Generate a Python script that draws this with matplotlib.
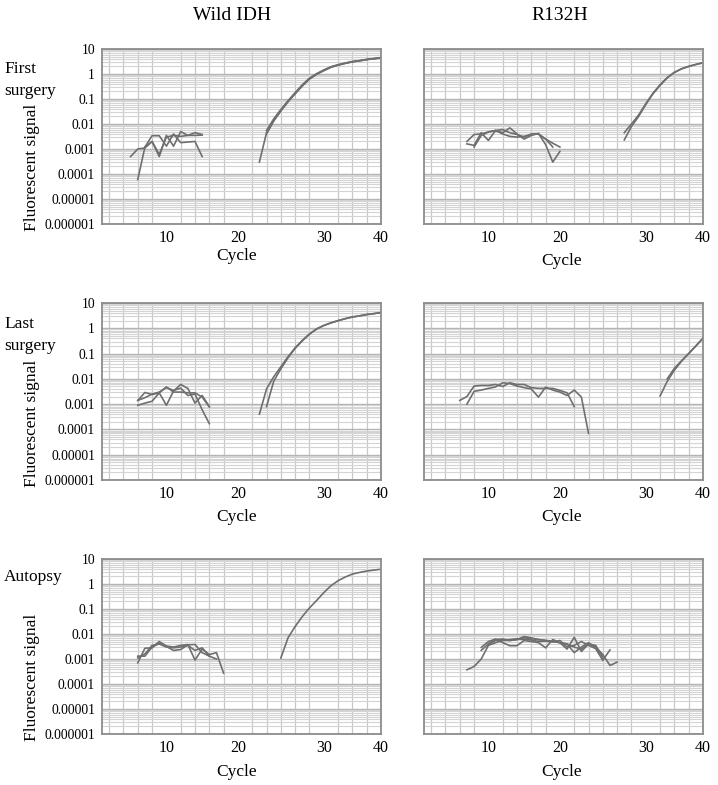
import numpy as np
import matplotlib
matplotlib.use("Agg")
import matplotlib.pyplot as plt
from matplotlib.ticker import LogLocator, FixedLocator, NullFormatter

plt.rcParams['font.family'] = ['Liberation Serif', 'DejaVu Serif']

# ---------------- data (first cycle, fluorescent signal per cycle) ----------------
COL_TITLES = ["Wild IDH", "R132H"]
ROW_TITLES = ["First\nsurgery", "Last\nsurgery", "Autopsy"]
Y_TICKS = [1e-6, 1e-5, 1e-4, 1e-3, 1e-2, 1e-1, 1, 10]
Y_TICK_LABELS = ["0.000001", "0.00001", "0.0001", "0.001", "0.01", "0.1", "1", "10"]
X_TICK_LABELS = ["10", "20", "30", "40"]

# Wild IDH, first surgery
WT1_N1 = (5, [0.0005, 0.0010, 0.0011, 0.0020, 0.0005, 0.0035, 0.0013, 0.0050, 0.0035, 0.0035, 0.0036])
WT1_N2 = (6, [0.00006, 0.0012, 0.0034, 0.0034, 0.0013, 0.0040, 0.0018, 0.0019, 0.0020, 0.0005])
WT1_N3 = (7, [0.0012, 0.0020, 0.0006, 0.0030, 0.0035, 0.0032, 0.0035, 0.0045, 0.0038])
WT1_A1 = (23, [0.0003, 0.0045, 0.014, 0.035, 0.08, 0.17, 0.35, 0.65, 1.0, 1.4, 1.9, 2.3, 2.7, 3.1, 3.4, 3.8, 4.1, 4.5])
WT1_A2 = (24, [0.0040, 0.013, 0.033, 0.077, 0.16, 0.33, 0.62, 0.97, 1.35, 1.85, 2.25, 2.65, 3.05, 3.35, 3.75, 4.05, 4.4])
WT1_A3 = (24, [0.0055, 0.016, 0.038, 0.085, 0.18, 0.37, 0.68, 1.03, 1.45, 1.95, 2.35, 2.75, 3.15, 3.45, 3.85, 4.15, 4.55])

# R132H, first surgery
MT1_N1 = (7, [0.0016, 0.0014, 0.0045, 0.0022, 0.0055, 0.0045, 0.0070, 0.0040, 0.0025, 0.0035, 0.0042, 0.0015, 0.0003, 0.0008])
MT1_N2 = (7, [0.0020, 0.0038, 0.0040, 0.0048, 0.0055, 0.0060, 0.0045, 0.0038, 0.0030, 0.0040, 0.0040, 0.0025, 0.0017, 0.0012])
MT1_N3 = (8, [0.0012, 0.0035, 0.0048, 0.0055, 0.0040, 0.0032, 0.0030, 0.0032, 0.0038, 0.0040, 0.0025, 0.0012])
MT1_A1 = (29, [0.0023, 0.008, 0.02, 0.06, 0.16, 0.35, 0.7, 1.15, 1.6, 2.0, 2.4, 2.8])
MT1_A2 = (29, [0.0045, 0.010, 0.023, 0.065, 0.17, 0.37, 0.72, 1.17, 1.62, 2.02, 2.42, 2.82])

# Wild IDH, last surgery
WT2_N1 = (6, [0.0014, 0.0029, 0.0024, 0.0028, 0.0048, 0.0030, 0.0030, 0.0028, 0.0028, 0.0019, 0.00078])
WT2_N2 = (6, [0.0009, 0.0011, 0.0013, 0.0028, 0.0009, 0.0033, 0.0060, 0.0042, 0.0011, 0.0022, 0.0008])
WT2_N3 = (6, [0.0014, 0.0018, 0.0025, 0.0030, 0.0045, 0.0035, 0.0043, 0.0022, 0.0025, 0.0006, 0.00017])
WT2_A1 = (23, [0.0004, 0.004, 0.012, 0.03, 0.075, 0.17, 0.33, 0.6, 0.95, 1.3, 1.65, 2.0, 2.4, 2.8, 3.1, 3.5, 3.8, 4.2])
WT2_A2 = (24, [0.0008, 0.008, 0.025, 0.068, 0.16, 0.32, 0.58, 0.93, 1.28, 1.63, 2.0, 2.4, 2.8, 3.1, 3.5, 3.8, 4.2])

# R132H, last surgery
MT2_N1 = (6, [0.0014, 0.0020, 0.0052, 0.0055, 0.0055, 0.0060, 0.0050, 0.0070, 0.0060, 0.0060, 0.0045, 0.0042, 0.0042, 0.0042, 0.0035, 0.0028, 0.0008])
MT2_N2 = (7, [0.0010, 0.0032, 0.0036, 0.0042, 0.0048, 0.0070, 0.0065, 0.0052, 0.0045, 0.0040, 0.0019, 0.0047, 0.0036, 0.0030, 0.0022, 0.0036, 0.0019, 0.00007])
MT2_A1 = (34, [0.0021, 0.008, 0.022, 0.05, 0.1, 0.2, 0.4])
MT2_A2 = (35, [0.0100, 0.026, 0.052, 0.1, 0.2, 0.41])

# Wild IDH, autopsy
WT3_N1 = (6, [0.0007, 0.0027, 0.0028, 0.0050, 0.0033, 0.0030, 0.0035, 0.0038, 0.0009, 0.0025, 0.0015, 0.0018, 0.00027])
WT3_N2 = (6, [0.0013, 0.0013, 0.0030, 0.0042, 0.0032, 0.0022, 0.0024, 0.0037, 0.0038, 0.0018, 0.0013, 0.0010])
WT3_N3 = (6, [0.0011, 0.0016, 0.0035, 0.0040, 0.0030, 0.0028, 0.0030, 0.0035, 0.0022, 0.0028, 0.0013])
WT3_A1 = (26, [0.0011, 0.007, 0.02, 0.05, 0.11, 0.22, 0.45, 0.85, 1.35, 1.9, 2.5, 2.9, 3.3, 3.6, 3.9])

# R132H, autopsy
MT3_N1 = (7, [0.00037, 0.0005, 0.0010, 0.0035, 0.0045, 0.0055, 0.0055, 0.0060, 0.0070, 0.0065, 0.0060, 0.0055,
              0.0050, 0.0045, 0.0040, 0.0030, 0.0025, 0.0040, 0.0030, 0.0015, 0.00055, 0.00075])
MT3_N2 = (9, [0.0029, 0.0050, 0.0063, 0.0045, 0.0034, 0.0034, 0.0055, 0.0050, 0.0045, 0.0028, 0.0060, 0.0045,
              0.0040, 0.0018, 0.0030, 0.0045, 0.0028, 0.0009, 0.0023])
MT3_N3 = (9, [0.0022, 0.0040, 0.0060, 0.0063, 0.0055, 0.0060, 0.0079, 0.0070, 0.0060, 0.0055, 0.0052, 0.0045,
              0.0025, 0.0074, 0.0020, 0.0040, 0.0035, 0.0012])
MT3_N4 = (10, [0.0040, 0.0055, 0.0058, 0.0060, 0.0065, 0.0060, 0.0058, 0.0050, 0.0052, 0.0048, 0.0055, 0.0030,
               0.0035, 0.0050, 0.0035, 0.0026, 0.0009])

PANELS = [
    [[WT1_N1, WT1_N2, WT1_N3, WT1_A1, WT1_A2, WT1_A3], [MT1_N1, MT1_N2, MT1_N3, MT1_A1, MT1_A2]],
    [[WT2_N1, WT2_N2, WT2_N3, WT2_A1, WT2_A2], [MT2_N1, MT2_N2, MT2_A1, MT2_A2]],
    [[WT3_N1, WT3_N2, WT3_N3, WT3_A1], [MT3_N1, MT3_N2, MT3_N3, MT3_N4]],
]

# ---------------- layout / style ----------------
W, H = 718, 785
X_TICK_POS = [10, 20, 32, 40]   # label positions as printed in the source figure
col_left = [102, 424]
ax_w = 279
row_top = [49, 303, 559]
row_h = [175, 177, 175]
LINE_COLOR = "#6f6f6f"

fig = plt.figure(figsize=(W / 100, H / 100), dpi=100)

def fx(px):
    return px / W

def fy(py):
    return 1 - py / H

for r in range(3):
    for c in range(2):
        ax = fig.add_axes([fx(col_left[c]), fy(row_top[r] + row_h[r]), fx(ax_w), row_h[r] / H])
        ax.set_yscale('log')
        ax.set_xlim(1, 40)
        ax.set_ylim(1e-6, 10)
        # grid
        ax.yaxis.set_major_locator(FixedLocator(Y_TICKS))
        ax.yaxis.set_minor_locator(LogLocator(base=10, subs=np.arange(2, 10), numticks=20))
        ax.yaxis.set_minor_formatter(NullFormatter())
        ax.xaxis.set_minor_locator(FixedLocator(np.arange(2, 40, 2)))
        ax.xaxis.set_major_locator(FixedLocator(X_TICK_POS))
        ax.grid(which='minor', axis='y', color='#d4d4d4', lw=0.8)
        ax.grid(which='major', axis='y', color='#b4b4b4', lw=1.0)
        ax.grid(which='minor', axis='x', color='#c8c8c8', lw=0.9)
        ax.grid(which='major', axis='x', visible=False)
        ax.set_axisbelow(True)
        ax.tick_params(which='both', length=0)
        ax.set_xticklabels(X_TICK_LABELS, fontsize=11.5)
        ax.tick_params(axis='x', pad=4.5)
        if c == 0:
            ax.set_yticklabels(Y_TICK_LABELS, fontsize=9.8)
            ax.tick_params(axis='y', pad=5)
        else:
            ax.set_yticklabels([])
        for s in ax.spines.values():
            s.set_color('#8c8c8c')
            s.set_linewidth(1.3)
        for start, vals in PANELS[r][c]:
            cyc = np.arange(start, start + len(vals))
            ax.plot(cyc, vals, color=LINE_COLOR, lw=1.2)

# column titles
fig.text(fx(232), fy(15), COL_TITLES[0], ha='center', va='center', fontsize=14)
fig.text(fx(560), fy(15), COL_TITLES[1], ha='center', va='center', fontsize=14)

# row titles
row_label_y = [80, 335, 577]
for r in range(3):
    fig.text(fx(4), fy(row_label_y[r]), ROW_TITLES[r], ha='left', va='center', fontsize=12.5,
             linespacing=1.45)

# y-axis labels
ylab_y = [167, 423, 677]
for r in range(3):
    fig.text(fx(32), fy(ylab_y[r]), "Fluorescent signal", rotation=90, ha='center', va='center',
             fontsize=12.5)

# x-axis labels (top of text)
xlab_top = [[248, 253], [509, 509], [764, 764]]
xlab_x = [237, 562]
for r in range(3):
    for c in range(2):
        fig.text(fx(xlab_x[c]), fy(xlab_top[r][c]), "Cycle", ha='center', va='top', fontsize=12.5)

fig.savefig("out.png", dpi=100)
